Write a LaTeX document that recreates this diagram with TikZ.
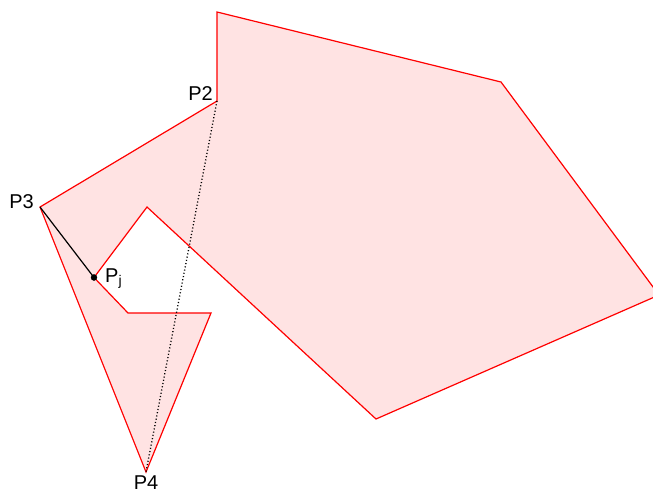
\documentclass[tikz,border=0pt]{standalone}
\usepackage{fontspec}
\setmainfont{Liberation Sans}
\begin{document}
\begin{tikzpicture}[x=1pt, y=-1pt,
    edge/.style={red, line width=1.2pt, line join=miter},
    ptlabel/.style={inner sep=0pt, font=\fontsize{20}{24}\selectfont}]
    \useasboundingbox (0,0) rectangle (653,491);

    % Vertices of the polygon
    \coordinate (A) at (217,12);
    \coordinate (B) at (501,82);
    \coordinate (C) at (659,295);
    \coordinate (D) at (376,419);
    \coordinate (E) at (147,207);
    \coordinate (Pj) at (94,277.5);
    \coordinate (G) at (128,313);
    \coordinate (H) at (211,313);
    \coordinate (P4) at (146,472);
    \coordinate (P3) at (40,207);
    \coordinate (P2) at (217,101);

    % Polygon
    \filldraw[edge, fill=red!11] (A) -- (B) -- (C) -- (D) -- (E) -- (Pj) -- (G)
        -- (H) -- (P4) -- (P3) -- (P2) -- cycle;

    % Diagonal P2 -- P4
    \draw[black, line width=1.3pt, dash pattern=on 1.1pt off 2.2pt] (P2) -- (P4);

    % Segment P3 -- Pj
    \draw[black, line width=1.2pt] (P3) -- (Pj);
    \filldraw[black] (Pj) circle (3pt);

    % Labels
    \node[ptlabel, anchor=base east] (lP2) at ([xshift=-4pt,yshift=1pt]P2) {P2};
    \node[ptlabel, anchor=base east] (lP3) at ([xshift=-6pt,yshift=-1pt]P3) {P3};
    \node[ptlabel, anchor=base west] (lPj) at ([xshift=11pt,yshift=-4.5pt]Pj) {P\textsubscript{j}};
    \node[ptlabel, anchor=base] (lP4) at ([yshift=-17pt]P4) {P4};
\end{tikzpicture}
\end{document}
